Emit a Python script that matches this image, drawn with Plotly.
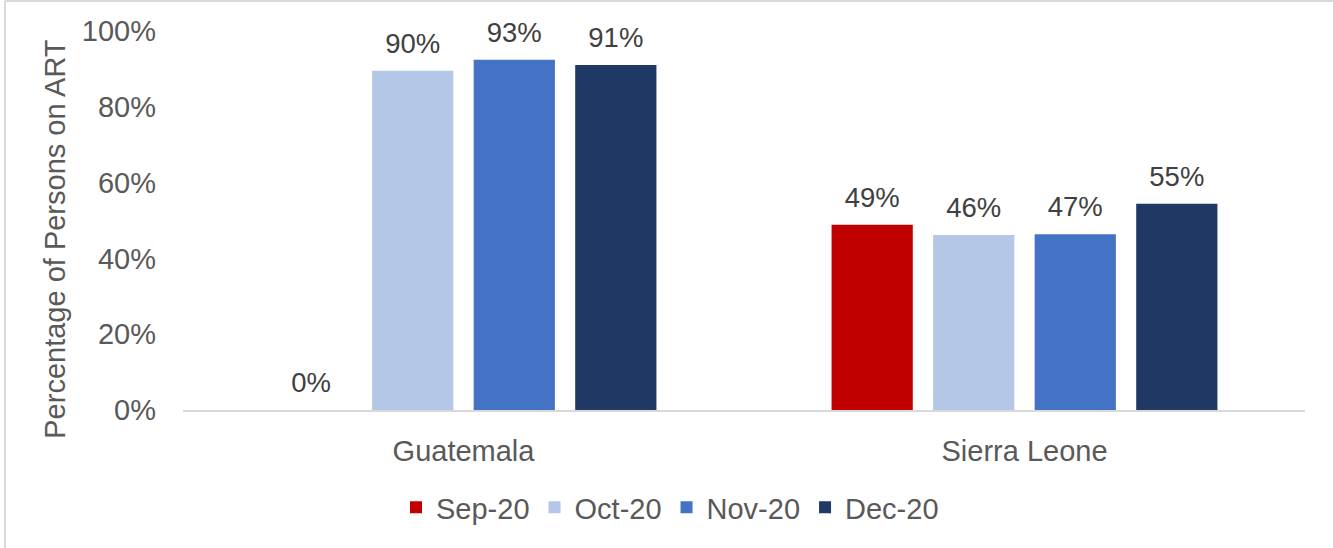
import plotly.graph_objects as go

countries = ["Guatemala", "Sierra Leone"]
months = ["Sep-20", "Oct-20", "Nov-20", "Dec-20"]
values = {
    "Sep-20": [0.0, 48.9],
    "Oct-20": [89.5, 46.2],
    "Nov-20": [92.4, 46.4],
    "Dec-20": [91.0, 54.4],
}
labels = {
    "Sep-20": ["0%", "49%"],
    "Oct-20": ["90%", "46%"],
    "Nov-20": ["93%", "47%"],
    "Dec-20": ["91%", "55%"],
}
colors = {
    "Sep-20": "#C00000",
    "Oct-20": "#B4C7E7",
    "Nov-20": "#4472C4",
    "Dec-20": "#203864",
}
y_ticks = [0, 20, 40, 60, 80, 100]
y_ticklabels = ["0%", "20%", "40%", "60%", "80%", "100%"]
y_title = "Percentage of Persons on ART"

W, H = 1333, 548
L, R, T, B = 183, 28, 31, 137.5
pw = W - L - R
ph = H - T - B
LABEL_PAD = 2.4  # extra lift (axis units) of the value labels above the bars

fig = go.Figure()
for m in months:
    fig.add_trace(go.Bar(
        name=m, x=countries, y=values[m], offsetgroup=m,
        marker=dict(color=colors[m], line=dict(width=0)),
        hoverinfo="skip",
    ))
for m in months:
    fig.add_trace(go.Bar(
        name=m, x=countries, y=values[m], base=LABEL_PAD, offsetgroup=m,
        text=labels[m], textposition="outside", textangle=0,
        constraintext="none", cliponaxis=False, showlegend=False,
        textfont=dict(family="Liberation Sans, Arial", size=27.5, color="#404040"),
        marker=dict(color="rgba(0,0,0,0)", line=dict(width=0)),
        hoverinfo="skip",
    ))

font = dict(family="Liberation Sans, Arial", size=29, color="#595959")
fig.update_layout(
    width=W, height=H,
    margin=dict(l=L, r=R, t=T, b=B, autoexpand=False),
    paper_bgcolor="white", plot_bgcolor="white",
    barmode="group", bargap=0.276, bargroupgap=0.2,
    font=font,
    showlegend=True,
    legend=dict(orientation="h", x=(670 - L) / pw, xanchor="center",
                y=(T + ph - 508) / ph, yanchor="middle",
                font=font, traceorder="normal", itemclick=False),
    xaxis=dict(showline=True, linecolor="#D9D9D9", linewidth=2, ticks="",
               tickfont=font, ticklabelstandoff=14, showgrid=False, zeroline=False,
               fixedrange=True),
    yaxis=dict(range=[0, 100], tickvals=y_ticks, ticktext=y_ticklabels,
               showgrid=False, zeroline=False, showline=False, ticks="",
               tickfont=font, ticklabelstandoff=26,
               automargin=False, fixedrange=True),
    annotations=[dict(text=y_title, textangle=-90, xref="paper", yref="paper",
                      x=(55 - L) / pw, y=(T + ph - 239) / ph,
                      xanchor="center", yanchor="middle", showarrow=False, font=font)],
)
# light frame lines along the left and top edges
fig.add_shape(type="line", xref="paper", yref="paper",
              x0=(5 - L) / pw, x1=(5 - L) / pw,
              y0=(T + ph - H - 2) / ph, y1=(T + ph - 1) / ph,
              line=dict(color="#D9D9D9", width=2), layer="below")
fig.add_shape(type="line", xref="paper", yref="paper",
              x0=(5 - L) / pw, x1=(W + 2 - L) / pw,
              y0=(T + ph - 1) / ph, y1=(T + ph - 1) / ph,
              line=dict(color="#D9D9D9", width=2), layer="below")

fig.write_html("out.html")
